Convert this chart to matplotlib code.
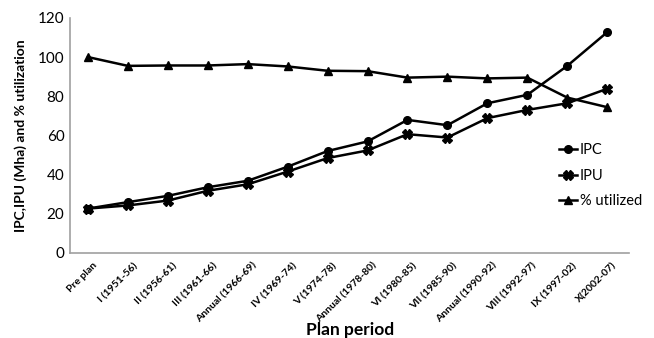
import numpy as np
import matplotlib.pyplot as plt
import matplotlib.transforms as mtransforms

plt.rcParams['font.family'] = ['Lato', 'DejaVu Sans']

periods = ['Pre plan', 'I (1951-56)', 'II (1956-61)', 'III (1961-66)',
           'Annual (1966-69)', 'IV (1969-74)', 'V (1974-78)',
           'Annual (1978-80)', 'VI (1980-85)', 'VII (1985-90)',
           'Annual (1990-92)', 'VIII (1992-97)', 'IX (1997-02)', 'X(2002-07)']
ipc = [22.6, 25.9, 29.1, 33.5, 36.8, 44.0, 52.0, 56.9, 67.9, 65.2, 76.4, 80.7, 95.5, 112.7]
ipu = [22.6, 24.2, 26.7, 31.7, 35.0, 41.5, 48.4, 52.3, 60.6, 58.9, 68.8, 73.0, 76.4, 83.8]
utilized = [100.0, 95.5, 95.7, 95.7, 96.4, 95.2, 93.0, 92.8, 89.5, 90.0, 89.1, 89.5, 79.3, 74.4]

fig = plt.figure(figsize=(6.54, 3.38), dpi=100)
ax = fig.add_axes([0.107, 0.252, 0.855, 0.695])

x = np.arange(len(periods))
ax.plot(x, ipc, color='black', lw=1.8, marker='o', ms=5.5, label='IPC')
ax.plot(x, ipu, color='black', lw=1.8, marker='X', ms=7, label='IPU')
ax.plot(x, utilized, color='black', lw=1.8, marker='^', ms=5.5, label='% utilized')

ax.set_xlim(-0.45, 13.55)
ax.set_ylim(0, 120)
ax.set_yticks(range(0, 121, 20))
ax.set_xticks(x)
ax.set_xticklabels(periods, rotation=45, ha='right', rotation_mode='anchor',
                   fontsize=7.5, fontweight='bold')
ax.tick_params(axis='x', length=0, pad=6)
ax.tick_params(axis='y', length=0, labelsize=11, pad=4)
# nudge rotated labels a little to the right, like the original
shift = mtransforms.ScaledTranslation(0.05, 0, fig.dpi_scale_trans)
for lbl in ax.get_xticklabels():
    lbl.set_transform(lbl.get_transform() + shift)

for s in ['top', 'right']:
    ax.spines[s].set_visible(False)
for s in ['left', 'bottom']:
    ax.spines[s].set_color('#a0a0a0')
    ax.spines[s].set_linewidth(1.2)

ax.set_ylabel('IPC,IPU (Mha) and % utilization', fontsize=10, fontweight='bold', labelpad=8)
ax.set_xlabel('Plan period', fontsize=12.5, fontweight='bold', labelpad=0, va='center')
ax.xaxis.set_label_coords(0.5, -0.33)

fig.legend(loc='center left', bbox_to_anchor=(0.835, 0.48), frameon=False,
           fontsize=10.5, handlelength=1.2, handletextpad=0.2, labelspacing=0.8)

fig.savefig('out.png', dpi=100)
